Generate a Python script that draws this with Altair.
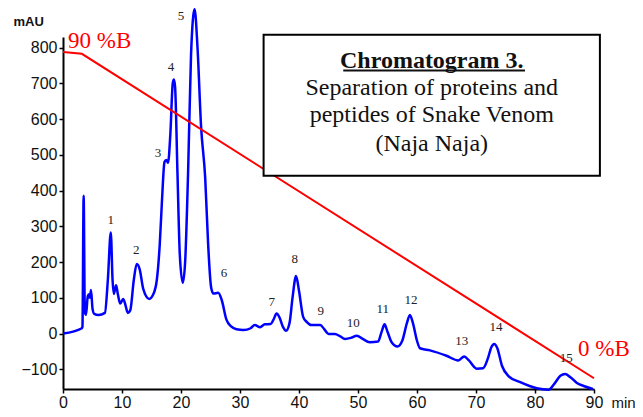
import altair as alt
import pandas as pd

# Chromatogram trace (minutes, mAU)
time_min = [0, 3.2, 3.3, 3.5, 3.7, 3.9, 4.2, 4.4, 4.55, 4.75, 5.0, 5.3, 6.0, 7.1, 7.6, 8.1, 8.4, 8.6, 9.0, 9.3,
            9.7, 10.2, 10.5, 11.0, 11.4, 12.0, 12.5, 13.0, 13.6, 14.6, 15.3, 15.9, 16.4, 16.8, 17.2, 17.5, 17.8,
            18.2, 18.6, 18.8, 19.0, 19.4, 19.8, 20.3, 20.7, 21.2, 21.7, 22.3, 22.8, 23.4, 24.1, 24.6, 25.1, 25.5,
            26.3, 26.9, 27.7, 28.5, 29.4, 30.6, 31.8, 32.5, 33.4, 34.2, 35.2, 35.7, 36.2, 36.7, 37.3, 37.8, 38.4,
            38.9, 39.5, 40.0, 40.7, 41.3, 42.1, 43.0, 43.6, 44.3, 45.0, 46.1, 47.0, 47.8, 48.8, 49.8, 50.8, 52.0,
            53.4, 54.0, 54.5, 55.0, 55.7, 56.7, 57.5, 58.3, 58.8, 59.3, 60.0, 60.5, 62.2, 65.0, 67.0, 68.0, 68.8,
            70.1, 71.2, 72.0, 72.6, 73.1, 73.6, 74.4, 75.5, 77.5, 80.3, 82.3, 83.3, 84.3, 85.1, 86.0, 87.1, 88.5,
            89.8]
absorbance = [0, 15, 20, 386, 60, 53, 105, 110, 100, 122, 70, 55, 52, 58, 150, 283, 150, 111, 135, 110,
              84, 97, 85, 58, 65, 150, 195, 180, 125, 97, 110, 150, 250, 380, 480, 486, 478,
              560, 700, 711, 690, 450, 220, 142, 200, 450, 780, 908, 800, 580, 436, 250, 130, 112,
              114, 94, 39, 20, 12, 10, 15, 24, 18, 26, 27, 40, 56, 45, 18, 8, 30,
              100, 161, 120, 47, 33, 24, 24, 24, 12, -1, -1, -8, -15, -12, -6, -15, -24,
              -22, 5, 26, 5, -24, -36, -20, 30, 52, 30, -20, -41, -47, -62, -75, -64, -75,
              -98, -97, -70, -38, -29, -40, -90, -119, -136, -153, -157, -140, -118, -113, -122, -138, -148,
              -155]

# Gradient (%B) line drawn in mAU coordinates
gradient_t = [0, 3.2, 90]
gradient_v = [788, 783, -125]

# Peak labels
peak_names = [str(i) for i in range(1, 16)]
peak_t = [8.1, 12.4, 16.1, 18.3, 20.0, 27.3, 35.4, 39.3, 43.7, 49.2, 54.2, 59.0, 67.6, 73.4, 85.3]
peak_v = [317, 233, 505, 747, 889, 169, 89, 209, 64, 31, 68, 95, -20, 19, -69]

# Gradient labels
grad_labels = ["90 %B", "0 %B"]
grad_label_t = [0.85, 87.3]
grad_label_v = [818, -42]

# Caption box
box_t = [34.0, 91.0]
box_v = [442, 836]
caption_lines = ["Separation of proteins and", "peptides of Snake Venom", "(Naja Naja)"]
caption_v = [686, 611, 531]
caption_title = "Chromatogram 3."
caption_title_v = 764
underline_t = [47.5, 78.3]
underline_v = 736
caption_t = 62.5

x_ticks = list(range(0, 91, 10))
y_ticks = list(range(-100, 801, 100))

trace = pd.DataFrame({"t": time_min, "v": absorbance})
grad = pd.DataFrame({"t": gradient_t, "v": gradient_v})
peaks = pd.DataFrame({"t": peak_t, "v": peak_v, "label": peak_names})
glab = pd.DataFrame({"t": grad_label_t, "v": grad_label_v, "label": grad_labels})
box = pd.DataFrame({"t": [box_t[0]], "t2": [box_t[1]], "v": [box_v[0]], "v2": [box_v[1]]})
cap = pd.DataFrame({"t": [caption_t] * 3, "v": caption_v, "label": caption_lines})
cap_title = pd.DataFrame({"t": [caption_t], "v": [caption_title_v], "label": [caption_title]})
uline = pd.DataFrame({"t": [underline_t[0]], "t2": [underline_t[1]], "v": [underline_v]})

xs = alt.Scale(domain=[0, 90], nice=False, zero=False)
ys = alt.Scale(domain=[-155, 830], nice=False, zero=False)

x_axis = alt.Axis(values=x_ticks, ticks=True, tickSize=4, tickColor="black", tickWidth=1.5,
                  grid=False, domainColor="black", domainWidth=2, labelOverlap=False,
                  labelFont="Liberation Sans", labelFontSize=16, labelColor="#111", labelPadding=1,
                  title="min", titleFont="Liberation Sans", titleFontSize=15, titleFontWeight="normal",
                  titleColor="#111", titleAnchor="start", titleAlign="left", titleBaseline="middle",
                  titleX=548, titleY=13, labelFlush=False)
y_axis = alt.Axis(values=y_ticks, grid=False, domainColor="black", domainWidth=2,
                  tickColor="black", tickSize=4, tickWidth=1.5, labelOverlap=False,
                  labelFont="Liberation Sans", labelFontSize=16, labelColor="#111", labelPadding=2,
                  title="mAU", titleAngle=0, titleFont="Liberation Sans", titleFontSize=13,
                  titleFontWeight="bold", titleColor="#111", titleAlign="left", titleBaseline="middle",
                  titleX=-50, titleY=-16, labelFlush=False)

ax = alt.X("t:Q", scale=xs, axis=x_axis)
ay = alt.Y("v:Q", scale=ys, axis=y_axis)

trace_line = alt.Chart(trace).mark_line(color="#0000ff", strokeWidth=2.5, interpolate="monotone").encode(
    x=ax, y=ay)
grad_line = alt.Chart(grad).mark_line(color="#ff0000", strokeWidth=2).encode(x=ax, y=ay)
peak_text = alt.Chart(peaks).mark_text(font="Liberation Serif", fontSize=13, color="#222",
                                       baseline="middle", align="center").encode(
    x=ax, y=ay, text="label:N")
grad_text = alt.Chart(glab).mark_text(font="Liberation Serif", fontSize=23, color="#ff0000",
                                      baseline="middle", align="left").encode(
    x=ax, y=ay, text="label:N")
box_rect = alt.Chart(box).mark_rect(fill="white", stroke="black", strokeWidth=2).encode(
    x=ax, x2="t2:Q", y=ay, y2="v2:Q")
cap_text = alt.Chart(cap).mark_text(font="Liberation Serif", fontSize=24, color="#111",
                                    baseline="middle", align="center").encode(
    x=ax, y=ay, text="label:N")
cap_title_text = alt.Chart(cap_title).mark_text(font="Liberation Serif", fontSize=24, fontWeight="bold",
                                                color="#111", baseline="middle", align="center").encode(
    x=ax, y=ay, text="label:N")
uline_rule = alt.Chart(uline).mark_rule(color="#111", strokeWidth=2).encode(
    x=ax, x2="t2:Q", y=ay)

chart = alt.layer(trace_line, grad_line, peak_text, grad_text, box_rect, cap_title_text, uline_rule, cap_text
                  ).properties(
    width=531, height=352,
    autosize=alt.AutoSizeParams(type="none"),
    padding={"left": 55, "top": 29, "right": 41, "bottom": 20},
    background="white",
).configure_view(stroke=None).configure_axis(labelOverlap=False)

chart.save("out.html", embed_options={"renderer": "svg", "actions": False})
